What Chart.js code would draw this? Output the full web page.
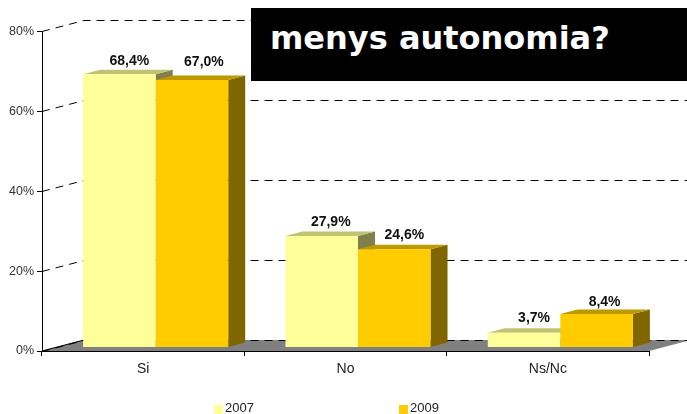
<!DOCTYPE html>
<html>
<head>
<meta charset="utf-8">
<script src="https://cdn.jsdelivr.net/npm/chart.js@4"></script>
<style>
html,body{margin:0;padding:0;background:#fff;width:687px;height:414px;overflow:hidden}
#wrap{position:relative;width:687px;height:414px}
canvas{position:absolute;left:0;top:0}
#title{position:absolute;left:251px;top:8px;width:436px;height:73px;background:#000;color:#fff;
font:bold 32px "DejaVu Sans",sans-serif;line-height:61px;padding-left:19px;box-sizing:border-box;white-space:nowrap}
</style>
</head>
<body>
<div id="wrap">
<canvas id="c" width="687" height="414"></canvas>
<div id="title">menys autonomia?</div>
</div>
<script>
const categories = ['Si', 'No', 'Ns/Nc'];
const series2007 = [68.4, 27.9, 3.7];
const series2009 = [67.0, 24.6, 8.4];
const yTicksMax = 80;
const yTickStep = 20;

const DX = 42, DY = 11;            // depth of the floor / walls
const BAR_DX = 12.5, BAR_DY = 3.5; // bar front offset into the floor
const SIDE_X = 17, SIDE_Y = 4.5;   // depth of each bar
const faces = [
  {top:'#C2C273', side:'#80804D'},
  {top:'#BF9900', side:'#806600'}
];
// small per-label placement adjustments [series][category] -> [dx, dy]
const labelNudge = [
  [[0,1],[-1,0.5],[0,0]],
  [[2,-3],[0,0.5],[-2,3]]
];
const fmt = v => v.toFixed(1).replace('.', ',') + '%';

const scene = {
  id:'scene',
  beforeDatasetsDraw(chart){
    const {ctx, chartArea:a, scales:{y}} = chart;
    ctx.save();
    // floor
    ctx.fillStyle = '#808080';
    ctx.beginPath();
    ctx.moveTo(a.left, a.bottom);
    ctx.lineTo(a.left+DX, a.bottom-DY);
    ctx.lineTo(a.right+DX, a.bottom-DY);
    ctx.lineTo(a.right, a.bottom);
    ctx.closePath();
    ctx.fill();
    // dashed wall grid
    ctx.strokeStyle = '#000';
    ctx.lineWidth = 1;
    ctx.setLineDash([8,6]);
    y.ticks.forEach(t=>{
      const py = Math.floor(y.getPixelForValue(t.value))+0.5;
      ctx.beginPath();
      ctx.moveTo(a.left, py);
      ctx.lineTo(a.left+DX, py-DY);
      ctx.lineTo(a.right+DX, py-DY);
      ctx.stroke();
    });
    ctx.setLineDash([]);
    // floor left edge
    ctx.beginPath();
    ctx.moveTo(a.left, a.bottom);
    ctx.lineTo(a.left+DX, a.bottom-DY);
    ctx.stroke();
    // bar top + side faces
    chart.data.datasets.forEach((ds,i)=>{
      chart.getDatasetMeta(i).data.forEach(b=>{
        const p = b.getProps(['x','y','base','width'], true);
        const l = p.x-p.width/2+BAR_DX, r = p.x+p.width/2+BAR_DX;
        const t = p.y-BAR_DY, bt = p.base-BAR_DY;
        ctx.fillStyle = faces[i].side;
        ctx.beginPath();
        ctx.moveTo(r,t); ctx.lineTo(r+SIDE_X,t-SIDE_Y);
        ctx.lineTo(r+SIDE_X,bt-SIDE_Y); ctx.lineTo(r,bt);
        ctx.closePath(); ctx.fill();
        ctx.fillStyle = faces[i].top;
        ctx.beginPath();
        ctx.moveTo(l,t); ctx.lineTo(l+SIDE_X,t-SIDE_Y);
        ctx.lineTo(r+SIDE_X,t-SIDE_Y); ctx.lineTo(r,t);
        ctx.closePath(); ctx.fill();
      });
    });
    ctx.restore();
    // shift the library-drawn bar fronts into the floor
    ctx.save();
    ctx.translate(BAR_DX,-BAR_DY);
  },
  afterDatasetsDraw(chart){
    const {ctx} = chart;
    ctx.restore();
    // value labels
    ctx.save();
    ctx.font = 'bold 14px "Liberation Sans"';
    ctx.fillStyle = '#111';
    ctx.textAlign = 'center';
    ctx.textBaseline = 'middle';
    chart.data.datasets.forEach((ds,i)=>{
      chart.getDatasetMeta(i).data.forEach((b,j)=>{
        const p = b.getProps(['x','y'], true);
        const n = labelNudge[i][j];
        ctx.fillText(fmt(ds.data[j]), p.x+BAR_DX+10+n[0], p.y-BAR_DY-SIDE_Y-10+n[1]);
      });
    });
    ctx.restore();
  },
  afterDraw(chart){
    // legend
    const {ctx} = chart;
    const xs = [214, 399];
    ctx.save();
    ctx.font = '13px "Liberation Sans"';
    ctx.textBaseline = 'alphabetic';
    ctx.textAlign = 'left';
    chart.data.datasets.forEach((ds,i)=>{
      ctx.fillStyle = ds.backgroundColor;
      ctx.fillRect(xs[i], 405, 9, 9);
      ctx.fillStyle = '#222';
      ctx.fillText(ds.label, xs[i]+11, 412);
    });
    ctx.restore();
  }
};

new Chart(document.getElementById('c'), {
  type:'bar',
  data:{
    labels:categories,
    datasets:[
      {label:'2007', data:series2007, backgroundColor:'#FFFF99', borderWidth:0},
      {label:'2009', data:series2009, backgroundColor:'#FFCC00', borderWidth:0}
    ]
  },
  options:{
    responsive:false,
    animation:false,
    devicePixelRatio:1,
    layout:{padding:{left:0,right:38,top:31.5,bottom:0}},
    plugins:{legend:{display:false},title:{display:false},tooltip:{enabled:false}},
    datasets:{bar:{categoryPercentage:0.717,barPercentage:1}},
    scales:{
      x:{
        afterFit(s){s.height=63;},
        grid:{drawOnChartArea:false,drawTicks:true,tickLength:5,color:'#000'},
        border:{color:'#000',width:1},
        ticks:{font:{family:'"Liberation Sans"',size:14},color:'#222',padding:5,maxRotation:0}
      },
      y:{
        min:0,max:yTicksMax,
        afterFit(s){s.width=42;},
        grid:{drawOnChartArea:false,drawTicks:true,tickLength:5,color:'#000'},
        border:{color:'#000',width:1},
        ticks:{stepSize:yTickStep,font:{family:'"Liberation Sans"',size:12.5},color:'#333',padding:3,
          callback:v=>v+'%'}
      }
    }
  },
  plugins:[scene]
});
</script>
</body>
</html>
